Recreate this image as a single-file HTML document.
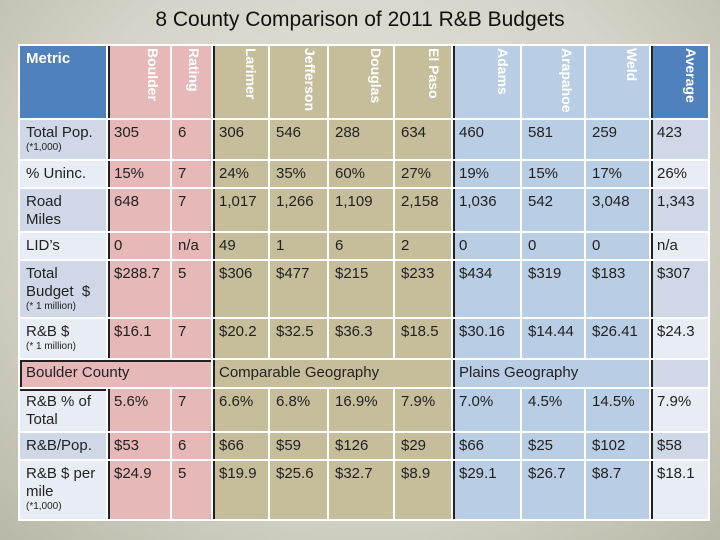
<!DOCTYPE html>
<html><head><meta charset="utf-8"><style>
html,body{margin:0;padding:0}
body{width:720px;height:540px;overflow:hidden;position:relative;font-family:"Liberation Sans",sans-serif;background:radial-gradient(ellipse at 50% 40%,#e6e5dc 0%,#d6d4c8 60%,#b9b7a7 100%)}
#title{position:absolute;left:0;top:8px;width:720px;text-align:center;font-size:21px;color:#111}
table{position:absolute;left:18px;top:44px;border-collapse:collapse;table-layout:fixed;width:690px}
td{border:2px solid #fff;padding:0 0 0 6px;vertical-align:top;font-size:15px;color:#222;line-height:18px;overflow:hidden;box-sizing:border-box}
td small{font-size:10px;line-height:11px;display:block}
.m1{background:#cfd8e7}.m2{background:#e8edf5}
.p{background:#e6b8b7}.t{background:#c6be9b}.b{background:#b9cde5}
.h{color:#fff;font-weight:bold;padding:2px 0 0 0;text-align:left}
.h div{writing-mode:vertical-rl;font-size:14px;margin-left:auto;margin-right:8px;height:70px;white-space:nowrap}
.hm{background:#4f81bd;color:#fff;font-weight:bold;padding-top:4px}
.bl{box-shadow:inset 2px 0 0 #222}
tr td{padding-top:4px}
.h.bl div,.h div{}
</style></head><body>
<div id="title">8 County Comparison of 2011 R&amp;B Budgets</div>
<table>
<colgroup><col style="width:88px"><col style="width:64px"><col style="width:41px"><col style="width:57px"><col style="width:59px"><col style="width:66px"><col style="width:58px"><col style="width:69px"><col style="width:64px"><col style="width:65px"><col style="width:59px"></colgroup>
<tr style="height:73px">
<td class="hm">Metric</td>
<td class="h p bl"><div>Boulder</div></td>
<td class="h p"><div>Rating</div></td>
<td class="h t bl"><div>Larimer</div></td>
<td class="h t"><div>Jefferson</div></td>
<td class="h t"><div>Douglas</div></td>
<td class="h t"><div>El Paso</div></td>
<td class="h b bl"><div>Adams</div></td>
<td class="h b"><div>Arapahoe</div></td>
<td class="h b"><div>Weld</div></td>
<td class="h bl" style="background:#4f81bd"><div>Average</div></td>
</tr>
<tr style="height:41px">
<td class="m1">Total Pop.<small>(*1,000)</small></td>
<td class="p bl">305</td><td class="p">6</td><td class="t bl">306</td><td class="t">546</td><td class="t">288</td><td class="t">634</td><td class="b bl">460</td><td class="b">581</td><td class="b">259</td><td class="m1 bl">423</td></tr>
<tr style="height:28px">
<td class="m2">% Uninc.</td>
<td class="p bl">15%</td><td class="p">7</td><td class="t bl">24%</td><td class="t">35%</td><td class="t">60%</td><td class="t">27%</td><td class="b bl">19%</td><td class="b">15%</td><td class="b">17%</td><td class="m2 bl">26%</td></tr>
<tr style="height:44px">
<td class="m1">Road<br>Miles</td>
<td class="p bl">648</td><td class="p">7</td><td class="t bl">1,017</td><td class="t">1,266</td><td class="t">1,109</td><td class="t">2,158</td><td class="b bl">1,036</td><td class="b">542</td><td class="b">3,048</td><td class="m1 bl">1,343</td></tr>
<tr style="height:28px">
<td class="m2">LID’s</td>
<td class="p bl">0</td><td class="p">n/a</td><td class="t bl">49</td><td class="t">1</td><td class="t">6</td><td class="t">2</td><td class="b bl">0</td><td class="b">0</td><td class="b">0</td><td class="m2 bl">n/a</td></tr>
<tr style="height:58px">
<td class="m1">Total<br>Budget&nbsp; $<small>(* 1 million)</small></td>
<td class="p bl">$288.7</td><td class="p">5</td><td class="t bl">$306</td><td class="t">$477</td><td class="t">$215</td><td class="t">$233</td><td class="b bl">$434</td><td class="b">$319</td><td class="b">$183</td><td class="m1 bl">$307</td></tr>
<tr style="height:41px">
<td class="m2">R&amp;B $<small>(* 1 million)</small></td>
<td class="p bl">$16.1</td><td class="p">7</td><td class="t bl">$20.2</td><td class="t">$32.5</td><td class="t">$36.3</td><td class="t">$18.5</td><td class="b bl">$30.16</td><td class="b">$14.44</td><td class="b">$26.41</td><td class="m2 bl">$24.3</td></tr>
<tr style="height:29px">
<td class="p" colspan="3" style="box-shadow:inset 2px 2px 0 #222">Boulder County</td>
<td class="t bl" colspan="4">Comparable Geography</td>
<td class="b bl" colspan="3">Plains Geography</td>
<td class="m1 bl"></td></tr>
<tr style="height:44px">
<td class="m2" style="box-shadow:inset 0 2px 0 #222">R&amp;B % of<br>Total</td>
<td class="p bl">5.6%</td><td class="p">7</td><td class="t bl">6.6%</td><td class="t">6.8%</td><td class="t">16.9%</td><td class="t">7.9%</td><td class="b bl">7.0%</td><td class="b">4.5%</td><td class="b">14.5%</td><td class="m2 bl">7.9%</td></tr>
<tr style="height:28px">
<td class="m1">R&amp;B/Pop.</td>
<td class="p bl">$53</td><td class="p">6</td><td class="t bl">$66</td><td class="t">$59</td><td class="t">$126</td><td class="t">$29</td><td class="b bl">$66</td><td class="b">$25</td><td class="b">$102</td><td class="m1 bl">$58</td></tr>
<tr style="height:60px">
<td class="m2">R&amp;B $ per<br>mile<small>(*1,000)</small></td>
<td class="p bl">$24.9</td><td class="p">5</td><td class="t bl">$19.9</td><td class="t">$25.6</td><td class="t">$32.7</td><td class="t">$8.9</td><td class="b bl">$29.1</td><td class="b">$26.7</td><td class="b">$8.7</td><td class="m2 bl">$18.1</td></tr>
</table>
</body></html>
